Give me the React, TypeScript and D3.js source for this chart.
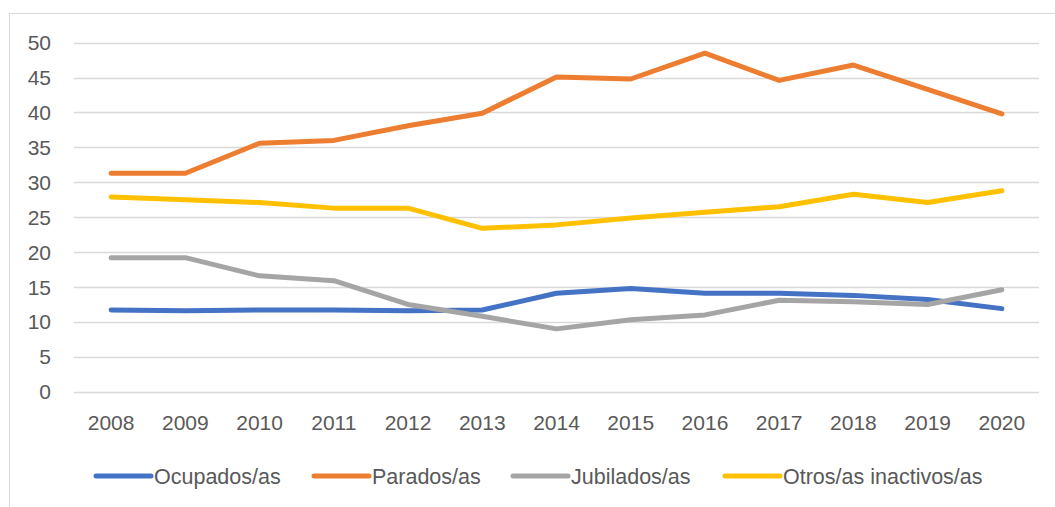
import React, { useEffect, useRef } from "react";
import * as d3 from "d3";

const years = ["2008","2009","2010","2011","2012","2013","2014","2015","2016","2017","2018","2019","2020"];
const ocupados = [11.7, 11.6, 11.7, 11.7, 11.6, 11.7, 14.1, 14.8, 14.1, 14.1, 13.8, 13.2, 11.9];
const parados = [31.3, 31.3, 35.6, 36.0, 38.1, 39.9, 45.1, 44.8, 48.5, 44.6, 46.8, 43.3, 39.8];
const jubilados = [19.2, 19.2, 16.6, 15.9, 12.5, 10.8, 9.0, 10.3, 11.0, 13.1, 12.9, 12.5, 14.6];
const otros = [27.9, 27.5, 27.1, 26.3, 26.3, 23.4, 23.9, 24.9, 25.7, 26.5, 28.3, 27.1, 28.8];
const yTicks = [0, 5, 10, 15, 20, 25, 30, 35, 40, 45, 50];

const seriesNames = ["Ocupados/as", "Parados/as", "Jubilados/as", "Otros/as inactivos/as"];
const seriesValues = [ocupados, parados, jubilados, otros];
const seriesColors = ["#4472C4", "#ED7D31", "#A5A5A5", "#FFC000"];

const W = 1055, H = 507;
const FONT = "'Liberation Sans', Arial, sans-serif";

export default function App() {
  const ref = useRef<SVGSVGElement>(null);
  useEffect(() => {
    const svg = d3.select(ref.current);
    svg.selectAll("*").remove();

    svg.append("rect").attr("x", 0).attr("y", 0).attr("width", W).attr("height", H).attr("fill", "#fff");
    svg.append("rect").attr("x", 9.5).attr("y", 13.5).attr("width", 1200).attr("height", 700)
      .attr("fill", "none").attr("stroke", "#D9D9D9").attr("stroke-width", 1);

    const left = 74, right = 1039, top = 42.7, bottom = 391.7;
    const x = d3.scaleBand<string>().domain(years).range([left, right]);
    const y = d3.scaleLinear().domain([0, 50]).range([bottom, top]);

    const g = svg.append("g");
    g.selectAll("line.grid").data(yTicks).enter().append("line")
      .attr("x1", left).attr("x2", right)
      .attr("y1", d => Math.round(y(d)) + 0.5).attr("y2", d => Math.round(y(d)) + 0.5)
      .attr("stroke", "#D9D9D9").attr("stroke-width", 1.3);

    g.selectAll("text.ytick").data(yTicks).enter().append("text")
      .attr("x", 51).attr("y", d => y(d)).attr("dy", "0.36em")
      .attr("text-anchor", "end").attr("font-family", FONT).attr("font-size", 21)
      .attr("fill", "#595959").text(d => String(d));

    g.selectAll("text.xtick").data(years).enter().append("text")
      .attr("x", d => (x(d) as number) + x.bandwidth() / 2).attr("y", 430)
      .attr("text-anchor", "middle").attr("font-family", FONT).attr("font-size", 21)
      .attr("fill", "#595959").text(d => d);

    const line = d3.line<number>()
      .x((_, i) => (x(years[i]) as number) + x.bandwidth() / 2)
      .y(d => y(d));

    seriesValues.forEach((vals, i) => {
      svg.append("path").attr("d", line(vals) as string)
        .attr("fill", "none").attr("stroke", seriesColors[i]).attr("stroke-width", 5)
        .attr("stroke-linejoin", "round").attr("stroke-linecap", "round");
    });

    const legendX = [96, 314, 513, 725];
    const ly = 476;
    seriesNames.forEach((name, i) => {
      svg.append("line").attr("x1", legendX[i]).attr("x2", legendX[i] + 55)
        .attr("y1", ly).attr("y2", ly).attr("stroke", seriesColors[i])
        .attr("stroke-width", 5).attr("stroke-linecap", "round");
      svg.append("text").attr("x", legendX[i] + 58).attr("y", ly).attr("dy", "0.36em")
        .attr("font-family", FONT).attr("font-size", 21.5).attr("fill", "#595959").text(name);
    });
  }, []);
  return (
    <svg ref={ref} width={W} height={H} style={{ position: "absolute", left: 0, top: 0, display: "block" }} />
  );
}
